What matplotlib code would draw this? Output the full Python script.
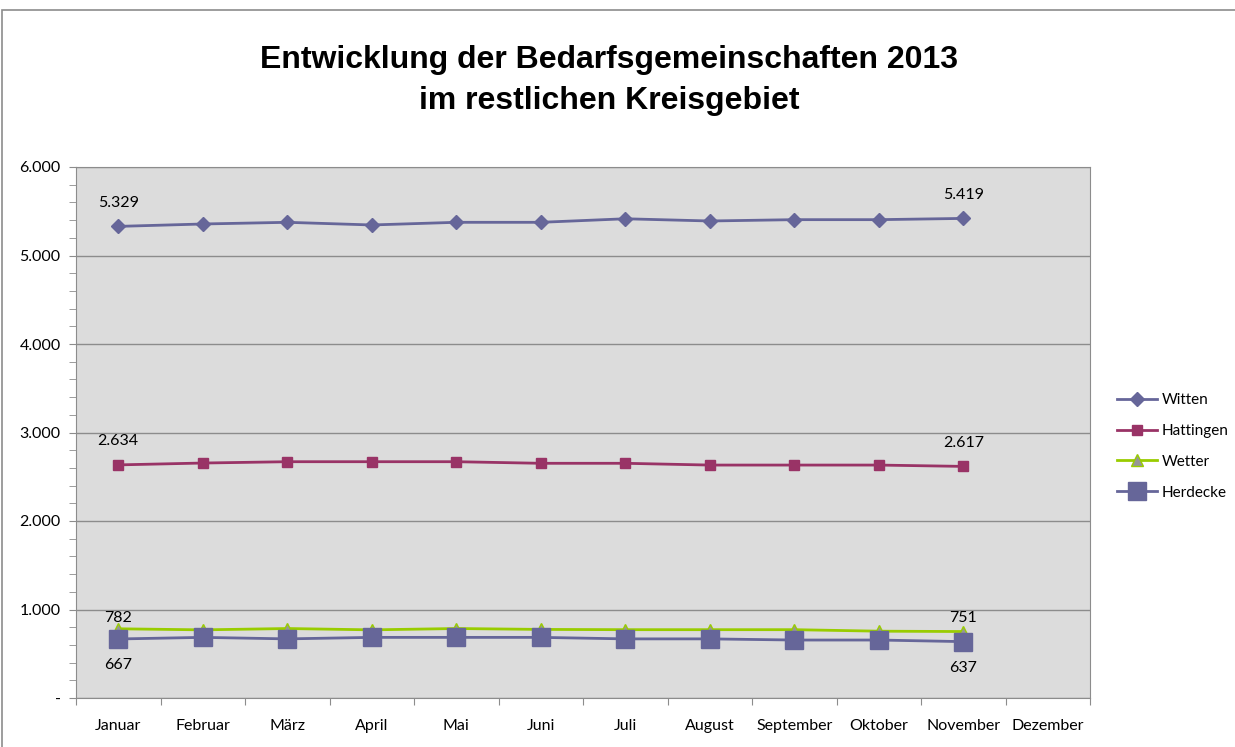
import matplotlib
matplotlib.use("Agg")
import matplotlib.pyplot as plt
from matplotlib.patches import Rectangle
from matplotlib.ticker import FixedLocator, MultipleLocator, FuncFormatter

months = ["Januar", "Februar", "März", "April", "Mai", "Juni", "Juli",
          "August", "September", "Oktober", "November", "Dezember"]
witten = [5329, 5356, 5375, 5345, 5375, 5375, 5415, 5390, 5405, 5405, 5419]
hattingen = [2634, 2655, 2670, 2670, 2670, 2652, 2652, 2632, 2632, 2632, 2617]
wetter = [782, 770, 785, 770, 785, 775, 772, 772, 772, 755, 751]
herdecke = [667, 685, 668, 685, 685, 685, 668, 668, 655, 655, 637]
yticks = [0, 1000, 2000, 3000, 4000, 5000, 6000]

plt.rcParams['font.family'] = ['Lato', 'DejaVu Sans']

fig = plt.figure(figsize=(12.35, 7.47), dpi=100)
fig.patches.append(Rectangle((2/1235, -0.01), 1.1, 1 - 10/747 + 0.01,
                             transform=fig.transFigure, fill=False,
                             edgecolor='#8c8c8c', linewidth=1.2))

ax = fig.add_axes([76/1235, 1 - 698/747, (1090 - 76)/1235, (698 - 167)/747])
ax.set_facecolor('#dcdcdc')

x = list(range(len(witten)))
series = [
    ("Witten", witten, dict(color='#666699', marker='D', markersize=7.5,
                            markerfacecolor='#666699', markeredgecolor='#666699')),
    ("Hattingen", hattingen, dict(color='#993366', marker='s', markersize=7.5,
                                  markerfacecolor='#993366', markeredgecolor='#993366')),
    ("Wetter", wetter, dict(color='#99cc00', marker='^', markersize=8,
                            markerfacecolor='#969696', markeredgecolor='#99cc00')),
    ("Herdecke", herdecke, dict(color='#666699', marker='s', markersize=13,
                                markerfacecolor='#666699', markeredgecolor='#666699')),
]
for name, vals, st in series:
    ax.plot(x, vals, linewidth=2, label=name, zorder=3, **st)

ax.set_xlim(-0.5, 11.5)
ax.set_ylim(0, 6000)

ax.yaxis.set_major_locator(FixedLocator(yticks))
ax.yaxis.set_minor_locator(MultipleLocator(200))
ax.yaxis.set_major_formatter(FuncFormatter(
    lambda v, p: '-' if v == 0 else f"{int(v):,}".replace(',', '.')))
ax.grid(axis='y', which='major', color='#8c8c8c', linewidth=1)
ax.set_axisbelow(True)

ax.set_xticks([i + 0.5 for i in range(-1, 12)])
ax.set_xticklabels([])
ax.set_xticks(range(12), minor=True)
ax.set_xticklabels(months, minor=True)
ax.tick_params(axis='x', which='major', length=5, color='#8c8c8c', direction='out')
ax.tick_params(axis='x', which='minor', length=0, pad=15, labelsize=11.5)
ax.tick_params(axis='y', which='both', length=5, color='#8c8c8c', direction='out',
               labelsize=11.5, pad=6)

for s in ['top', 'right', 'left', 'bottom']:
    ax.spines[s].set_color('#8c8c8c')

def fmt(v):
    return f"{v:,}".replace(',', '.')

lbl = dict(ha='center', fontsize=11.5, color='black')
ax.annotate(fmt(witten[0]), (0, witten[0]), xytext=(0, 12), textcoords='offset points', va='bottom', **lbl)
ax.annotate(fmt(witten[-1]), (10, witten[-1]), xytext=(0, 12), textcoords='offset points', va='bottom', **lbl)
ax.annotate(fmt(hattingen[0]), (0, hattingen[0]), xytext=(0, 12), textcoords='offset points', va='bottom', **lbl)
ax.annotate(fmt(hattingen[-1]), (10, hattingen[-1]), xytext=(0, 12), textcoords='offset points', va='bottom', **lbl)
ax.annotate(fmt(wetter[0]), (0, wetter[0]), xytext=(0, 3), textcoords='offset points', va='bottom', **lbl)
ax.annotate(fmt(wetter[-1]), (10, wetter[-1]), xytext=(0, 5), textcoords='offset points', va='bottom', **lbl)
ax.annotate(fmt(herdecke[0]), (0, herdecke[0]), xytext=(0, -14), textcoords='offset points', va='top', **lbl)
ax.annotate(fmt(herdecke[-1]), (10, herdecke[-1]), xytext=(0, -14), textcoords='offset points', va='top', **lbl)

leg = fig.legend(loc='upper left', bbox_to_anchor=(1111/1235, 1 - 387/747),
                 frameon=False, fontsize=11, handlelength=2.6,
                 labelspacing=1.1, handletextpad=0.3, borderaxespad=0)

fig.text(609/1235, 1 - 60/747, "Entwicklung der Bedarfsgemeinschaften 2013",
         ha='center', va='center', fontsize=23, fontweight='bold',
         family=['Liberation Sans', 'DejaVu Sans'])
fig.text(609/1235, 1 - 101/747, "im restlichen Kreisgebiet",
         ha='center', va='center', fontsize=23, fontweight='bold',
         family=['Liberation Sans', 'DejaVu Sans'])

fig.savefig("out.png", dpi=100)
